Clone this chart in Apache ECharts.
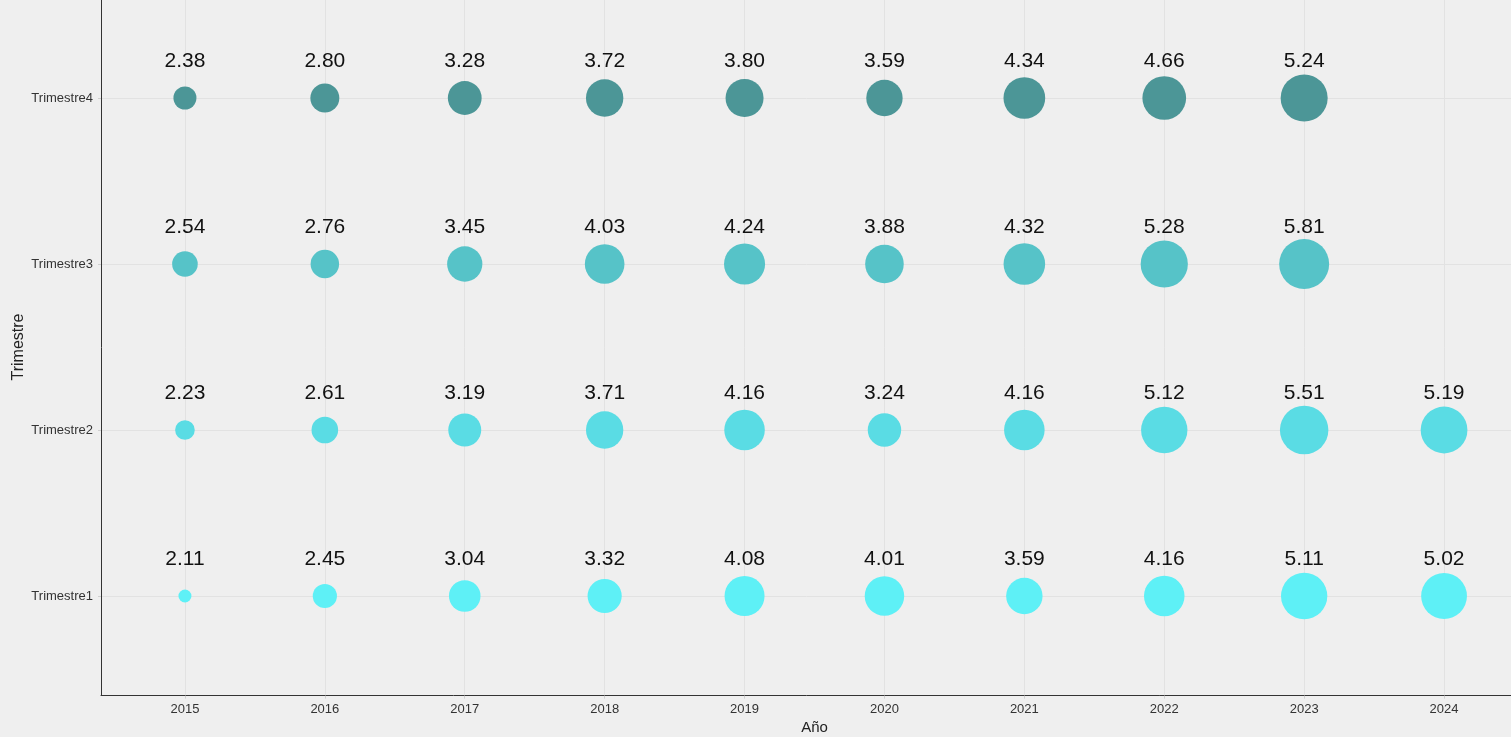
<!DOCTYPE html>
<html><head><meta charset="utf-8">
<script src="https://cdn.jsdelivr.net/npm/echarts@6/dist/echarts.min.js"></script>
<style>html,body{margin:0;padding:0;background:#EFEFEF;}#c{width:1511px;height:737px;}</style>
</head><body><div id="c"></div>
<script>
const years = [2015, 2016, 2017, 2018, 2019, 2020, 2021, 2022, 2023, 2024];
const quarterLabels = ['Trimestre1', 'Trimestre2', 'Trimestre3', 'Trimestre4'];
const t1 = [2.11, 2.45, 3.04, 3.32, 4.08, 4.01, 3.59, 4.16, 5.11, 5.02];
const t2 = [2.23, 2.61, 3.19, 3.71, 4.16, 3.24, 4.16, 5.12, 5.51, 5.19];
const t3 = [2.54, 2.76, 3.45, 4.03, 4.24, 3.88, 4.32, 5.28, 5.81];
const t4 = [2.38, 2.80, 3.28, 3.72, 3.80, 3.59, 4.34, 4.66, 5.24];
const colors = ['#5EF0F6', '#5ADCE4', '#56C3C8', '#4C9697'];

const all = [].concat(t1, t2, t3, t4);
const vMin = Math.min(...all), vMax = Math.max(...all);
function sizeOf(v) { return 13 + 37 * Math.sqrt((v - vMin) / (vMax - vMin)); }

const font = 'Liberation Sans, Arial, Helvetica, sans-serif';
const seriesVals = [t1, t2, t3, t4];
const series = seriesVals.map((vals, qi) => ({
  type: 'scatter',
  name: quarterLabels[qi],
  data: vals.map((v, i) => [years[i], qi + 1, v]),
  symbolSize: d => sizeOf(d[2]),
  itemStyle: { color: colors[qi], opacity: 1 },
  label: {
    show: true, position: 'inside', offset: [0, -37],
    formatter: p => p.value[2].toFixed(2),
    color: '#111', fontSize: 21, fontFamily: font
  },
  emphasis: { disabled: true }
}));

const chart = echarts.init(document.getElementById('c'));
chart.setOption({
  backgroundColor: '#EFEFEF',
  animation: false,
  grid: { left: 101, right: -17, top: -1.6, bottom: 41.4, containLabel: false, outerBoundsMode: 'none' },
  xAxis: {
    type: 'value', min: 2014.4, max: 2024.6,
    name: 'Año', nameLocation: 'middle', nameGap: 24,
    nameTextStyle: { fontSize: 15, color: '#222', fontFamily: font },
    axisLine: { show: true, lineStyle: { color: '#333', width: 1 } },
    axisTick: { show: true, length: 3, customValues: years, lineStyle: { color: '#cfcfcf' } },
    axisLabel: { customValues: years, fontSize: 13, color: '#333', fontFamily: font, margin: 7, formatter: v => String(v) },
    splitLine: { show: true, lineStyle: { color: '#E2E2E2', width: 1 } }
  },
  yAxis: {
    type: 'value', min: 0.4, max: 4.6,
    name: 'Trimestre', nameLocation: 'middle', nameGap: 74, nameRotate: 90, nameMoveOverlap: false,
    nameTextStyle: { fontSize: 16, color: '#222', fontFamily: font },
    axisLine: { show: true, lineStyle: { color: '#333', width: 1 } },
    axisTick: { show: true, length: 3, customValues: [1, 2, 3, 4], lineStyle: { color: '#cfcfcf' } },
    axisLabel: { customValues: [1, 2, 3, 4], fontSize: 13, color: '#333', fontFamily: font, margin: 8,
      formatter: v => quarterLabels[Math.round(v) - 1] || '' },
    splitLine: { show: true, lineStyle: { color: '#E2E2E2', width: 1 } }
  },
  series: series
});
</script>
</body></html>
